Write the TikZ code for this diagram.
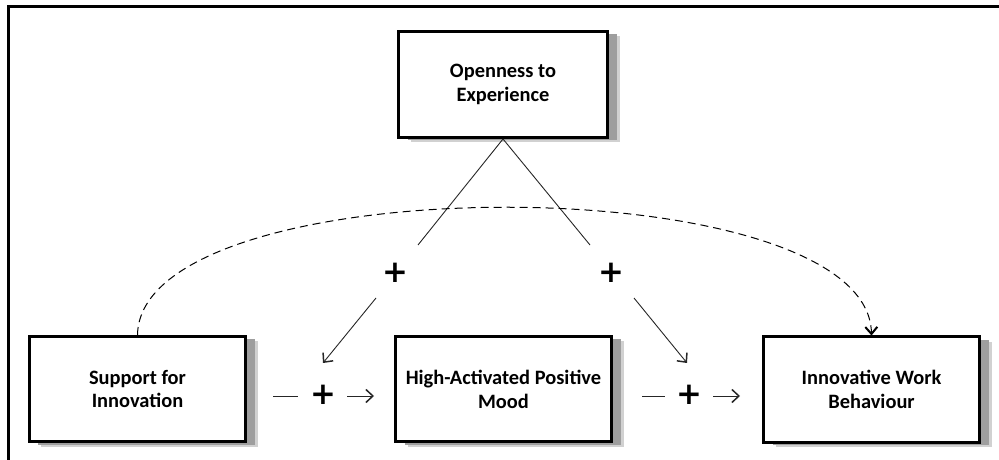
\documentclass[tikz,border=0pt]{standalone}
\usepackage{fontspec}
\setmainfont{Carlito}
\newfontfamily\signfont{DejaVu Sans}
\usetikzlibrary{arrows.meta,shadows}
\begin{document}
\begin{tikzpicture}[x=1bp,y=-1bp,
  concept/.style={draw=black, line width=3bp, fill=white,
    minimum width=216bp, minimum height=105bp, inner sep=0pt, align=center,
    font=\fontsize{20.5}{24}\selectfont\bfseries,
    general shadow={shadow xshift=12bp, shadow yshift=-5bp, fill=black!18},
    general shadow={shadow xshift=9bp, shadow yshift=-3bp, fill=black!38}},
  sign/.style={inner sep=0pt, font=\signfont\fontsize{31}{31}\selectfont\bfseries},
  link/.style={line width=0.9bp, draw=black!85},
  barb/.style={-{Straight Barb[length=7bp,width=13bp,line width=1.5bp]}}]
\useasboundingbox (0,0) rectangle (999,460);

% outer frame (top and left edges)
\draw[line width=3bp] (999,7) -- (8,7) -- (8,460);

% constructs
\node[concept, minimum width=209bp, minimum height=106bp] (open) at (503,84.5) {Openness to\\Experience};
\node[concept] (sup) at (137.5,389) {Support for\\Innovation};
\node[concept] (mood) at (503.5,389) {High-Activated Positive\\Mood};
\node[concept] (iwb) at (871.5,389.5) {Innovative Work\\Behaviour};

% moderation paths
\coordinate (ml) at (418,245);
\coordinate (mr) at (590,245);
\node[sign] (pl) at (395,273) {+};
\node[sign] (pr) at (611,273) {+};
\coordinate (al0) at (376,298);
\coordinate (al1) at (323,363);
\coordinate (ar0) at (634,298);
\coordinate (ar1) at (687,363);
\draw[link] (open.south) -- (ml);
\draw[link] (open.south) -- (mr);
\draw[link, barb] (al0) -- (al1);
\draw[link, barb] (ar0) -- (ar1);

% main effect paths
\coordinate (h1a) at (273,396);
\coordinate (h1b) at (298,396);
\node[sign] (p1) at (323,395) {+};
\coordinate (h1c) at (347,396);
\coordinate (h1d) at (374,396);
\coordinate (h2a) at (642,396);
\coordinate (h2b) at (665,396);
\node[sign] (p2) at (689,395) {+};
\coordinate (h2c) at (713,396);
\coordinate (h2d) at (740,396);
\draw[link] (h1a) -- (h1b);
\draw[link, barb] (h1c) -- (h1d);
\draw[link] (h2a) -- (h2b);
\draw[link, barb] (h2c) -- (h2d);

% direct effect
\draw[line width=1bp, dash pattern=on 8bp off 5bp,
  -{Straight Barb[length=7bp,width=12bp,line width=2bp]}]
  (sup.north) .. controls (140,165) and (868,165) .. (iwb.north);
\end{tikzpicture}
\end{document}
